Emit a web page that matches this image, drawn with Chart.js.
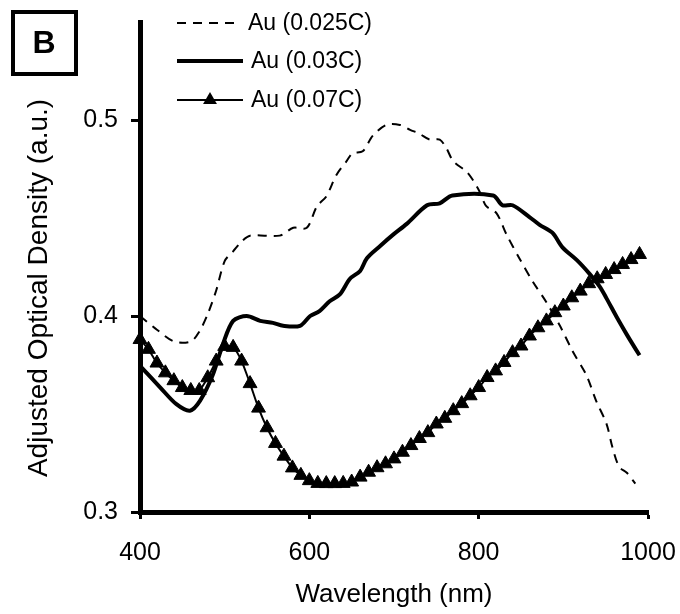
<!DOCTYPE html>
<html>
<head>
<meta charset="utf-8">
<script src="https://cdn.jsdelivr.net/npm/chart.js@4/dist/chart.umd.min.js"></script>
<style>
  html, body { margin: 0; padding: 0; background: #fff; }
  #wrap { width: 680px; height: 614px; }
</style>
</head>
<body>
<div id="wrap"><canvas id="odChart" width="680" height="614"></canvas></div>
<script>
// Series labels
const seriesNames = ['Au (0.025C)', 'Au (0.03C)', 'Au (0.07C)'];

// Au (0.025C) - dashed
const wl025 = [400, 420, 440, 460, 470, 480, 490, 500, 510, 520, 530, 565, 581, 597, 609, 620, 632, 644, 651, 663,
    675, 691, 707, 719, 730, 742, 754, 762, 770, 786, 793, 801, 809, 821, 833, 848, 864, 880, 896, 911,
    927, 939, 951, 958, 966, 975, 985];
const od025 = [0.400, 0.393, 0.387, 0.387, 0.392, 0.401, 0.413, 0.428, 0.433, 0.438, 0.441, 0.441, 0.445, 0.445, 0.456, 0.461, 0.472, 0.479, 0.483, 0.484,
    0.492, 0.4975, 0.4975, 0.495, 0.493, 0.490, 0.490, 0.4855, 0.479, 0.4735, 0.4695, 0.4635, 0.456, 0.4525, 0.4415, 0.4295, 0.4175, 0.407, 0.395, 0.382,
    0.370, 0.3565, 0.345, 0.333, 0.323, 0.320, 0.3145];

// Au (0.03C) - thick solid
const wl03 = [400, 424, 443, 459, 471, 486, 498, 510, 526, 542, 557, 569, 589, 601, 612, 624, 636, 648, 660, 668,
    683, 699, 715, 739, 754, 769, 817, 828, 840, 860, 872, 887, 899, 916, 931, 943, 951, 963, 975, 982, 990];
const od03 = [0.3746, 0.3635, 0.355, 0.3517, 0.3568, 0.370, 0.3857, 0.3975, 0.400, 0.3975, 0.3965, 0.395, 0.395, 0.400, 0.4025, 0.4075, 0.411, 0.419, 0.423, 0.4295,
    0.4355, 0.4415, 0.447, 0.4565, 0.4575, 0.4615, 0.4615, 0.4565, 0.4565, 0.4505, 0.4465, 0.4425, 0.435, 0.4285, 0.4215, 0.415, 0.409, 0.3995, 0.3905, 0.3855, 0.380];

// Au (0.07C) - thin solid with triangles
const wl07 = [400, 410, 420, 430, 440, 450, 460, 470, 480, 490, 500, 510, 520, 530, 540, 550, 560, 570, 580, 590,
    600, 610, 620, 630, 640, 650, 660, 670, 680, 690, 700, 710, 720, 730, 740, 750, 760, 770, 780, 790,
    800, 810, 820, 830, 840, 850, 860, 870, 880, 890, 900, 910, 920, 930, 940, 950, 960, 970, 980, 990];
const od07 = [0.388, 0.383, 0.376, 0.371, 0.367, 0.3635, 0.362, 0.362, 0.3685, 0.377, 0.3845, 0.384, 0.377, 0.3655, 0.353, 0.343, 0.335, 0.3285, 0.3225, 0.3187,
    0.316, 0.3146, 0.3145, 0.3145, 0.3146, 0.3153, 0.3178, 0.3203, 0.3226, 0.3246, 0.3271, 0.3305, 0.3339, 0.3375, 0.3405, 0.3449, 0.3478, 0.3517, 0.3553, 0.3593,
    0.3635, 0.3686, 0.372, 0.3763, 0.3813, 0.3847, 0.3898, 0.394, 0.3975, 0.4017, 0.4051, 0.4093, 0.4127, 0.4165, 0.419, 0.4212, 0.4237, 0.4263, 0.4288, 0.4314];

// Axis ticks
const xTicks = [400, 600, 800, 1000];
const yTicks = [0.3, 0.4, 0.5];

const FONT = '"Liberation Sans", Arial, Helvetica, sans-serif';

const toPoints = (xs, ys) => xs.map((x, i) => ({ x: x, y: ys[i] }));

// Panel letter, y title and inline legend
const decorations = {
    id: 'decorations',
    afterDraw: function (chart) {
        const ctx = chart.ctx;
        ctx.save();

        // "B" panel box
        ctx.strokeStyle = '#000';
        ctx.lineWidth = 4;
        ctx.strokeRect(13, 12, 63, 62);
        ctx.fillStyle = '#000';
        ctx.font = 'bold 32px ' + FONT;
        ctx.textAlign = 'center';
        ctx.textBaseline = 'middle';
        ctx.fillText('B', 44, 44);

        // y axis title
        ctx.save();
        ctx.translate(39, 288);
        ctx.rotate(-Math.PI / 2);
        ctx.font = '28px ' + FONT;
        ctx.fillText('Adjusted Optical Density (a.u.)', 0, 0);
        ctx.restore();

        // legend
        const rows = [23, 61, 100];
        ctx.font = '23px ' + FONT;
        ctx.textAlign = 'left';
        chart.data.datasets.forEach((ds, i) => {
            const y = rows[i];
            ctx.beginPath();
            ctx.setLineDash(ds.borderDash || []);
            ctx.lineWidth = ds.borderWidth;
            ctx.strokeStyle = ds.borderColor;
            ctx.moveTo(177, y);
            ctx.lineTo(i === 0 ? 238 : 243, y);
            ctx.stroke();
            ctx.setLineDash([]);
            if (ds.pointRadius > 0) {
                const r = ds.pointRadius;
                const cx = 210;
                ctx.beginPath();
                ctx.moveTo(cx, y - r);
                ctx.lineTo(cx + r * 0.866, y + r / 2);
                ctx.lineTo(cx - r * 0.866, y + r / 2);
                ctx.closePath();
                ctx.fillStyle = ds.pointBackgroundColor;
                ctx.fill();
            }
            ctx.fillStyle = '#000';
            ctx.fillText(ds.label, i === 0 ? 248 : 251, y + 1);
        });

        ctx.restore();
    }
};

const ctx = document.getElementById('odChart').getContext('2d');
new Chart(ctx, {
    type: 'line',
    data: {
        datasets: [
            {
                label: seriesNames[0],
                data: toPoints(wl025, od025),
                borderColor: '#000',
                borderWidth: 2,
                borderDash: [9, 7],
                pointRadius: 0,
                tension: 0.3,
                fill: false,
                clip: false
            },
            {
                label: seriesNames[1],
                data: toPoints(wl03, od03),
                borderColor: '#000',
                borderWidth: 4,
                pointRadius: 0,
                tension: 0.3,
                fill: false,
                clip: false
            },
            {
                label: seriesNames[2],
                data: toPoints(wl07, od07),
                borderColor: '#000',
                borderWidth: 2,
                pointStyle: 'triangle',
                pointRadius: 8,
                pointBackgroundColor: '#000',
                pointBorderColor: '#000',
                pointBorderWidth: 1,
                tension: 0.2,
                fill: false,
                clip: false
            }
        ]
    },
    options: {
        responsive: false,
        animation: false,
        layout: {
            padding: { left: 0, right: 32, top: 22, bottom: 0 }
        },
        plugins: {
            legend: { display: false },
            tooltip: { enabled: false }
        },
        scales: {
            x: {
                type: 'linear',
                min: 400,
                max: 1000,
                afterBuildTicks: (scale) => { scale.ticks = xTicks.map(v => ({ value: v })); },
                afterFit: (scale) => {
                    scale.height = 102;
                    scale.paddingLeft = 0;
                    scale.paddingRight = 0;
                },
                border: { display: true, color: '#000', width: 5 },
                grid: { drawOnChartArea: false, drawTicks: true, tickLength: 7, tickWidth: 3, tickColor: '#000' },
                ticks: {
                    color: '#000',
                    padding: 19,
                    maxRotation: 0,
                    font: { family: FONT, size: 25 },
                    callback: (v) => String(v)
                },
                title: {
                    display: true,
                    text: 'Wavelength (nm)',
                    color: '#000',
                    padding: { top: 0, bottom: 4 },
                    font: { family: FONT, size: 26 }
                }
            },
            y: {
                type: 'linear',
                min: 0.3,
                max: 0.55,
                afterBuildTicks: (scale) => { scale.ticks = yTicks.map(v => ({ value: v })); },
                afterFit: (scale) => {
                    scale.width = 140;
                    scale.paddingTop = 0;
                    scale.paddingBottom = 0;
                },
                border: { display: true, color: '#000', width: 5 },
                grid: { drawOnChartArea: false, drawTicks: true, tickLength: 9, tickWidth: 3, tickColor: '#000' },
                ticks: {
                    color: '#000',
                    padding: 13,
                    font: { family: FONT, size: 25 },
                    callback: (v) => v.toFixed(1)
                }
            }
        }
    },
    plugins: [decorations]
});
</script>
</body>
</html>
